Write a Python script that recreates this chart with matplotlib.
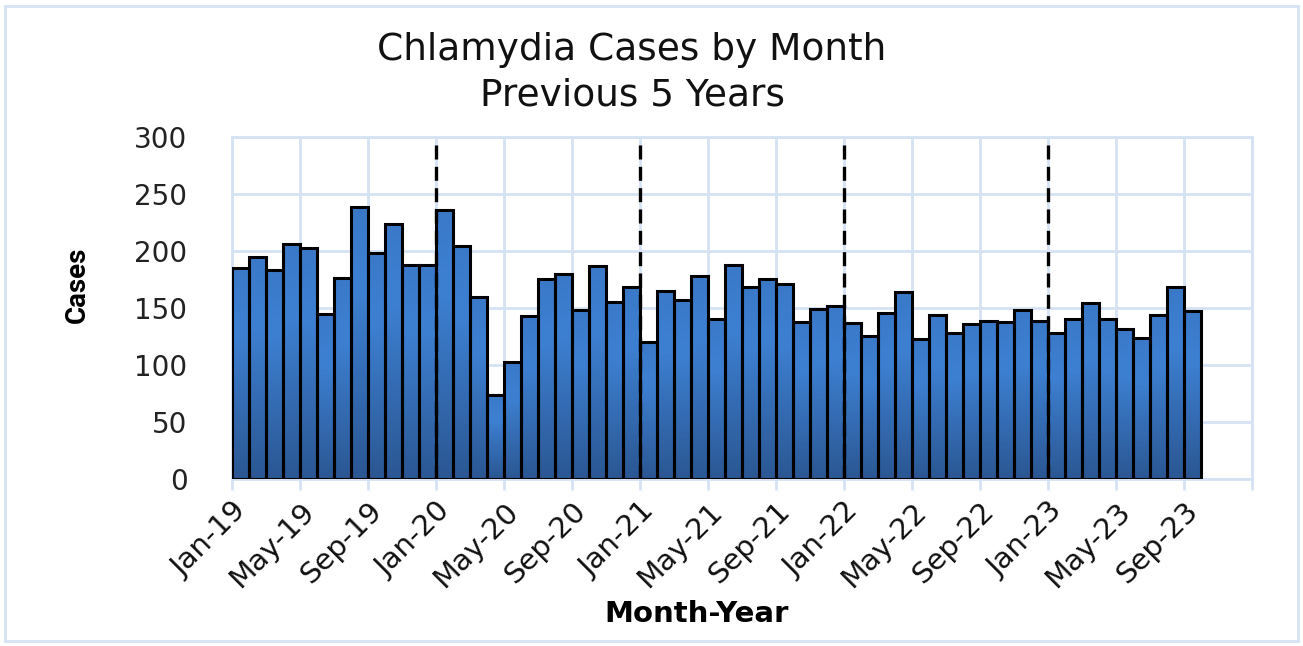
import matplotlib.pyplot as plt
import matplotlib.patches as mpatches
from matplotlib.colors import LinearSegmentedColormap
import numpy as np
import pandas as pd

# monthly cases Jan-2019 .. Sep-2023
months = pd.date_range("2019-01-01", periods=57, freq="MS")
cases_2019 = [185, 195, 183, 206, 203, 145, 176, 239, 198, 224, 188, 188]
cases_2020 = [236, 204, 160, 74, 103, 143, 175, 180, 148, 187, 155, 168]
cases_2021 = [120, 165, 157, 178, 140, 188, 168, 175, 171, 138, 149, 152]
cases_2022 = [137, 125, 146, 164, 123, 144, 128, 136, 139, 138, 148, 139]
cases_2023 = [128, 140, 154, 140, 132, 124, 144, 168, 147]
cases = cases_2019 + cases_2020 + cases_2021 + cases_2022 + cases_2023

tick_labels = [m.strftime("%b-%y") for m in months[::4]]
year_starts = [i for i, m in enumerate(months) if m.month == 1 and i > 0]

grid_col = "#d5e2f4"
grad = LinearSegmentedColormap.from_list(
    "bar", [(0, "#2b5793"), (0.7, "#3d80d2"), (1.0, "#3a79c8")])

fig = plt.figure(figsize=(13.03, 6.46), dpi=100)
ax = fig.add_axes([0.178, 0.2585, 0.783, 0.5295])

x = np.arange(len(cases))

# soft shadow behind the bars
ax.bar(x + 0.12, cases, width=1.0, align="edge", bottom=-2,
       color="#000000", alpha=0.18, linewidth=0, zorder=2)

bars = ax.bar(x, cases, width=1.0, align="edge", facecolor="none",
              edgecolor="black", linewidth=2.2, zorder=4)
g = np.linspace(0, 1, 128).reshape(-1, 1)
for b in bars:
    im = ax.imshow(g, cmap=grad, origin="lower", aspect="auto",
                   extent=[b.get_x(), b.get_x() + b.get_width(), 0, b.get_height()],
                   zorder=3)
    im.set_clip_path(b)

for ys in year_starts:
    ax.vlines(ys, 0, 296, colors="black", linestyles=(0, (4.2, 2.2)),
              linewidth=2.4, zorder=5)

ax.set_xlim(0, 60)
ax.set_ylim(0, 300)
ax.set_xticks(np.arange(0, 61, 4))
ax.set_xticklabels(tick_labels + [""], rotation=45, ha="right",
                   rotation_mode="anchor", fontsize=21, family="DejaVu Sans",
                   color="#111111")
ax.set_yticks(np.arange(0, 301, 50))
ax.set_yticklabels([str(v) for v in range(0, 301, 50)], fontsize=20,
                   family="DejaVu Sans", color="#222222")
ax.tick_params(axis="y", length=0, pad=32)
ax.tick_params(axis="x", length=8, width=2, color=grid_col, pad=5)
ax.grid(True, color=grid_col, linewidth=2, zorder=0)
ax.set_axisbelow(True)
for s in ax.spines.values():
    s.set_color(grid_col)
    s.set_linewidth(2)

fig.text(77 / 1303, 1 - 285 / 646, "Cases", rotation=90, ha="center",
         va="center", fontsize=20, fontweight="bold", family="Roboto")
fig.text(697 / 1303, 1 - 614 / 646, "Month-Year", ha="center", va="center",
         fontsize=21, fontweight="bold", family="DejaVu Sans")
fig.text(632 / 1303, 1 - 50 / 646, "Chlamydia Cases by Month",
         ha="center", va="center", fontsize=27, family="DejaVu Sans",
         color="#111111")
fig.text(632 / 1303, 1 - 96 / 646, "Previous 5 Years",
         ha="center", va="center", fontsize=27, family="DejaVu Sans",
         color="#111111")

fig.patches.append(mpatches.Rectangle((5 / 1303, 5 / 646), 1293 / 1303, 635 / 646,
                                      transform=fig.transFigure, fill=False,
                                      edgecolor=grid_col, linewidth=2))

fig.savefig("out.png", dpi=100)
